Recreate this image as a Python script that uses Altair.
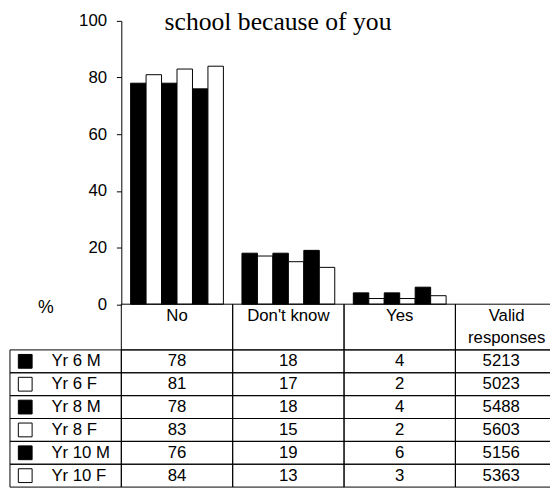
import altair as alt
import pandas as pd

# ---------------- data ----------------
categories = ["No", "Don't know", "Yes"]
series = ["Yr 6 M", "Yr 6 F", "Yr 8 M", "Yr 8 F", "Yr 10 M", "Yr 10 F"]
no_vals = [78, 81, 78, 83, 76, 84]
dont_know_vals = [18, 17, 18, 15, 19, 13]
yes_vals = [4, 2, 4, 2, 6, 3]
valid_responses = [5213, 5023, 5488, 5603, 5156, 5363]
series_fills = ["black", "white", "black", "white", "black", "white"]
y_ticks = [0, 20, 40, 60, 80, 100]
title_text = "school because of you"
valid_header = ["Valid", "responses"]

columns = ["label"] + categories + ["Valid"]
FONT = "Liberation Sans"
FS = 17

# ---------------- tables ----------------
bars_df = pd.DataFrame(
    [
        {"col": c, "series": s, "value": v}
        for c, vals in zip(categories, [no_vals, dont_know_vals, yes_vals])
        for s, v in zip(series, vals)
    ]
)

# table rows: header occupies rows 0..2, then one row per series
cell_rows = []
for i, s in enumerate(series):
    for c in columns:
        cell_rows.append({"col": c, "top": 2 + i, "bottom": 3 + i})
for c in categories + ["Valid"]:
    cell_rows.append({"col": c, "top": 0, "bottom": 2})
cells_df = pd.DataFrame(cell_rows)

header_df = pd.DataFrame(
    [{"col": c, "yc": 0.5, "text": c} for c in categories]
)
valid_header_df = pd.DataFrame(
    [{"col": "Valid", "yc": 0.5 + k, "text": t} for k, t in enumerate(valid_header)]
)
values_df = pd.DataFrame(
    [
        {"col": c, "yc": 2.5 + i, "text": str(v)}
        for c, vals in zip(categories, [no_vals, dont_know_vals, yes_vals])
        for i, v in enumerate(vals)
    ]
)
valid_df = pd.DataFrame(
    [{"col": "Valid", "yc": 2.5 + i, "text": str(v)} for i, v in enumerate(valid_responses)]
)
labels_df = pd.DataFrame(
    [{"col": "label", "yc": 2.5 + i, "series": s} for i, s in enumerate(series)]
)
title_df = pd.DataFrame({"t": [title_text]})

# ---------------- scales ----------------
x_scale = alt.Scale(domain=columns, range=[-113, 452], paddingInner=0, paddingOuter=0)
fill_scale = alt.Scale(domain=series, range=series_fills)
ytab = alt.Scale(domain=[0, 8], range=[287.5, 473.1], nice=False, zero=False)

# ---------------- bars ----------------
bars = alt.Chart(bars_df).mark_bar(stroke="black", strokeWidth=1).encode(
    x=alt.X("col:N", scale=x_scale, axis=None, sort=columns),
    xOffset=alt.XOffset(
        "series:N", scale=alt.Scale(domain=series, paddingInner=0, paddingOuter=0.6)
    ),
    y=alt.Y(
        "value:Q",
        scale=alt.Scale(domain=[0, 100], nice=False),
        axis=alt.Axis(
            values=y_ticks,
            grid=False,
            tickSize=5,
            labelPadding=10,
            labelFont=FONT,
            labelFontSize=FS,
            labelColor="black",
            domainColor="black",
            tickColor="black",
            title="%",
            titleAngle=0,
            titleX=-77,
            titleY=291,
            titleAlign="center",
            titleBaseline="middle",
            titleFont=FONT,
            titleFontSize=FS + 1,
            titleFontWeight="normal",
            titleColor="black",
        ),
    ),
    fill=alt.Fill("series:N", scale=fill_scale, legend=None),
)

title = alt.Chart(title_df).mark_text(
    font="Liberation Serif", fontSize=26, align="center", baseline="alphabetic", color="black"
).encode(text="t:N", x=alt.value(159), y=alt.value(9.5))

# ---------------- table ----------------
cells = alt.Chart(cells_df).mark_rect(
    fill="white", fillOpacity=0, stroke="black", strokeWidth=1
).encode(
    x=alt.X("col:N", scale=x_scale, axis=None),
    y=alt.Y("top:Q", scale=ytab, axis=None),
    y2="bottom:Q",
)


def text_layer(df, dx=0, weight="normal"):
    return alt.Chart(df).mark_text(
        font=FONT, fontSize=FS, color="black", baseline="middle", align="center",
        dx=dx, fontWeight=weight,
    ).encode(
        x=alt.X("col:N", scale=x_scale, axis=None),
        y=alt.Y("yc:Q", scale=ytab, axis=None),
        text="text:N",
    )


headers = text_layer(header_df)
valid_headers = text_layer(valid_header_df, dx=-4.5)
values = text_layer(values_df)
valids = text_layer(valid_df, dx=-10)

squares = alt.Chart(labels_df).mark_square(
    size=196, stroke="black", strokeWidth=1, opacity=1, filled=True
).encode(
    x=alt.X("col:N", scale=x_scale, axis=None, bandPosition=0.137),
    y=alt.Y("yc:Q", scale=ytab, axis=None),
    fill=alt.Fill("series:N", scale=fill_scale, legend=None),
)

labels = alt.Chart(labels_df).mark_text(
    font=FONT, fontSize=FS, color="black", baseline="middle", align="left"
).encode(
    x=alt.X("col:N", scale=x_scale, axis=None, bandPosition=0.372),
    y=alt.Y("yc:Q", scale=ytab, axis=None),
    text="series:N",
)

chart = (
    alt.layer(bars, title, cells, headers, valid_headers, values, valids, squares, labels)
    .resolve_scale(y="independent")
    .properties(
        width=435,
        height=287.5,
        autosize=alt.AutoSizeParams(type="none"),
        padding={"left": 115, "top": 9.5, "right": 0, "bottom": 186},
        background="white",
    )
    .configure_view(stroke=None)
)

chart.save("out.html", embed_options={"renderer": "svg", "actions": False})
